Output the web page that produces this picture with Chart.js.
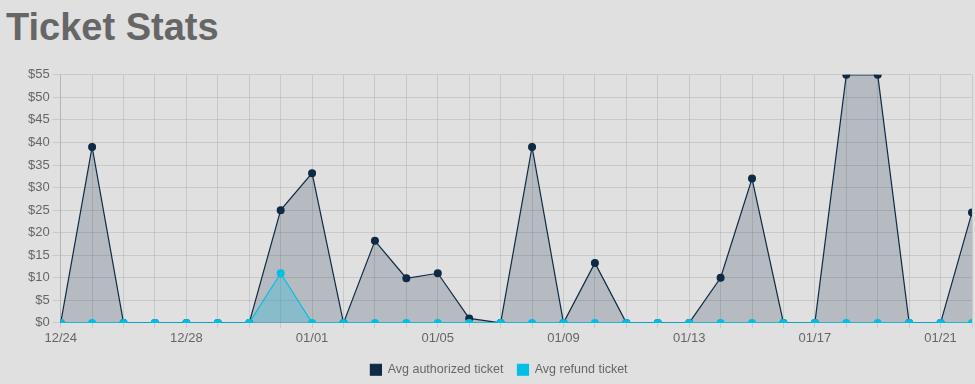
<!DOCTYPE html>
<html>
<head>
<meta charset="utf-8">
<title>Ticket Stats</title>
<script src="https://cdn.jsdelivr.net/npm/chart.js@4/dist/chart.umd.min.js"></script>
<style>
    html, body { margin: 0; padding: 0; background: #e0e0e0; }
    body { width: 975px; height: 384px; position: relative; overflow: hidden; }
    h1 {
        position: absolute; left: 6px; top: 8px; margin: 0;
        font: bold 38px/38px "Liberation Sans", Arial, sans-serif;
        color: #666;
    }
    #wrap { position: absolute; left: 0; top: 64px; width: 975px; height: 322px; }
</style>
</head>
<body>
<h1>Ticket Stats</h1>
<div id="wrap"><canvas id="ticketChart"></canvas></div>
<script>
// one point per day, 12/24 .. 01/22
var dates = ['12/24', '12/25', '12/26', '12/27', '12/28', '12/29', '12/30', '12/31',
    '01/01', '01/02', '01/03', '01/04', '01/05', '01/06', '01/07', '01/08', '01/09',
    '01/10', '01/11', '01/12', '01/13', '01/14', '01/15', '01/16', '01/17', '01/18',
    '01/19', '01/20', '01/21', '01/22'];
var authorized = [0, 39, 0, 0, 0, 0, 0, 25, 33.2, 0, 18.2, 9.9, 11, 1, 0, 39, 0,
    13.3, 0, 0, 0, 10, 32, 0, 0, 55, 55, 0, 0, 24.5];
var refund = [0, 0, 0, 0, 0, 0, 0, 11, 0, 0, 0, 0, 0, 0, 0, 0, 0,
    0, 0, 0, 0, 0, 0, 0, 0, 0, 0, 0, 0, 0];
var yTicks = [0, 5, 10, 15, 20, 25, 30, 35, 40, 45, 50, 55];

Chart.defaults.font.family = '"Liberation Sans", Arial, sans-serif';
Chart.defaults.color = '#666';

var ctx = document.getElementById('ticketChart').getContext('2d');
var ticketChart = new Chart(ctx, {
    type: 'line',
    data: {
        labels: dates,
        datasets: [{
            label: 'Avg authorized ticket',
            data: authorized,
            borderColor: '#0e2a44',
            backgroundColor: '#0e2a44',
            borderWidth: 1.2,
            pointRadius: 3.4,
            tension: 0,
            clip: 0,
            fill: { target: 'origin', above: 'rgba(14, 42, 68, 0.2)' },
            order: 1
        }, {
            label: 'Avg refund ticket',
            data: refund,
            borderColor: '#00bfe6',
            backgroundColor: '#00bfe6',
            borderWidth: 1.2,
            pointRadius: 3.4,
            tension: 0,
            clip: 0,
            fill: { target: 'origin', above: 'rgba(0, 191, 230, 0.25)' },
            order: 0
        }]
    },
    options: {
        responsive: true,
        maintainAspectRatio: false,
        animation: false,
        layout: { autoPadding: false, padding: { left: 25, right: 2, top: 4, bottom: 0 } },
        scales: {
            x: {
                grid: { color: 'rgba(0,0,0,0.1)', tickLength: 5 },
                ticks: {
                    autoSkip: false,
                    maxRotation: 0,
                    font: { size: 13 },
                    callback: function(value, index) {
                        return index % 4 === 0 ? dates[index] : '';
                    }
                }
            },
            y: {
                min: yTicks[0],
                max: yTicks[yTicks.length - 1],
                grid: { color: 'rgba(0,0,0,0.1)', tickLength: 8 },
                ticks: {
                    stepSize: 5,
                    font: { size: 13 },
                    callback: function(value) { return '$' + value; }
                }
            }
        },
        plugins: {
            legend: {
                position: 'bottom',
                reverse: true,
                labels: { boxWidth: 11, boxHeight: 11, padding: 14, font: { size: 12.5 } }
            },
            tooltip: { enabled: false }
        }
    }
});
</script>
</body>
</html>
